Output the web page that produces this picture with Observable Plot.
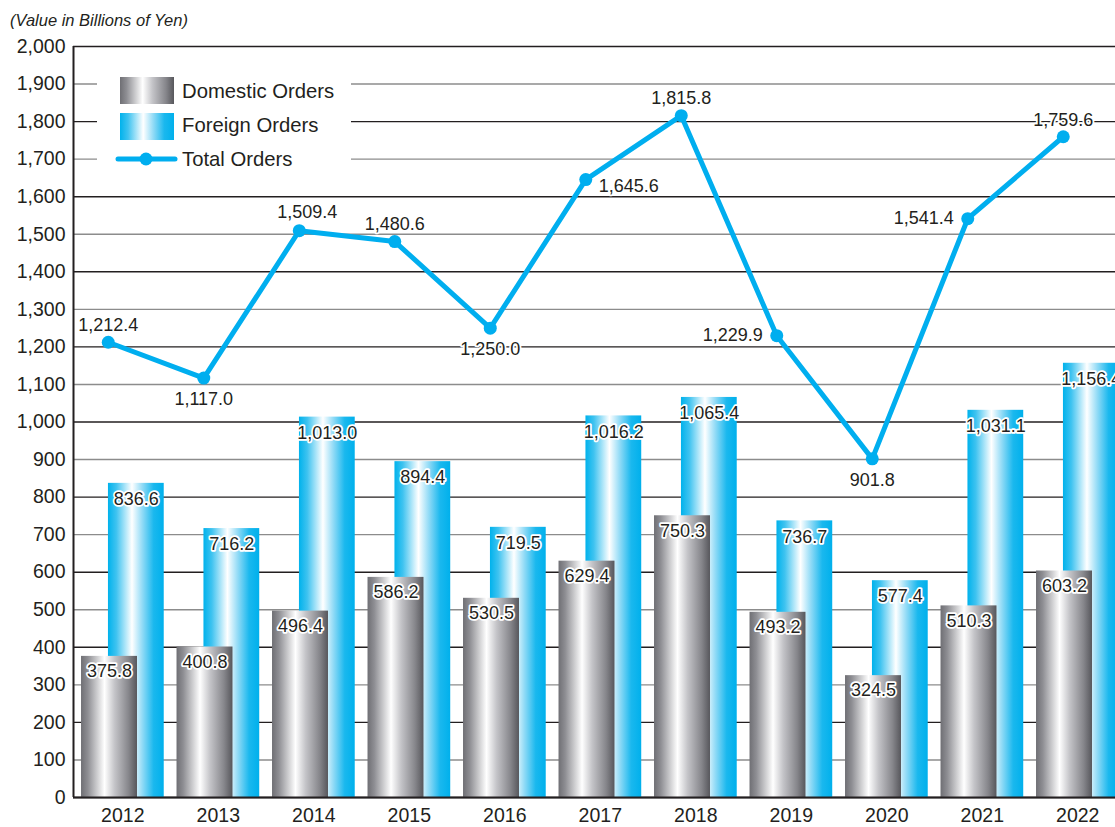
<!DOCTYPE html>
<html><head><meta charset="utf-8">
<script src="https://cdn.jsdelivr.net/npm/d3@7"></script>
<script src="https://cdn.jsdelivr.net/npm/@observablehq/plot@0.6"></script>
<style>
html,body{margin:0;padding:0;background:#fff;overflow:hidden;}
#title{height:32px;box-sizing:border-box;padding:11px 0 0 10px;font:italic 16.5px "Liberation Sans",Arial,sans-serif;line-height:18px;color:#231f20;}
</style></head><body>
<div id="title">(Value in Billions of Yen)</div>
<div id="chart"></div>
<script>
const years = [2012, 2013, 2014, 2015, 2016, 2017, 2018, 2019, 2020, 2021, 2022];
const domesticOrders = [375.8, 400.8, 496.4, 586.2, 530.5, 629.4, 750.3, 493.2, 324.5, 510.3, 603.2];
const foreignOrders = [836.6, 716.2, 1013.0, 894.4, 719.5, 1016.2, 1065.4, 736.7, 577.4, 1031.1, 1156.4];
const totalOrders = [1212.4, 1117.0, 1509.4, 1480.6, 1250.0, 1645.6, 1815.8, 1229.9, 901.8, 1541.4, 1759.6];
const totalLabelPlacement = ["above", "below", "aboveRight", "above", "below", "right", "above", "left", "below", "left", "above"];
const yTicks = d3.range(0, 2001, 100);
const seriesNames = ["Domestic Orders", "Foreign Orders", "Total Orders"];

const rows = years.map((year, i) => ({
  year, domestic: domesticOrders[i], foreign: foreignOrders[i], total: totalOrders[i], place: totalLabelPlacement[i]
}));

const FONT = '"Liberation Sans", Arial, Helvetica, sans-serif';
const INK = "#231f20";
const CYAN = "#00aeef";
const DOM_X1 = -0.432, DOM_X2 = 0.154, FOR_X1 = -0.150, FOR_X2 = 0.434, TOTAL_X = -0.152;
const xDomain = [2011.484, 2022.395];
const fmt = d3.format(",.1f");

const placements = {
  above: {dx: 0, dy: -17, textAnchor: "middle"},
  aboveRight: {dx: 8, dy: -18, textAnchor: "middle"},
  below: {dx: 0, dy: 21, textAnchor: "middle"},
  right: {dx: 13, dy: 7, textAnchor: "start"},
  left: {dx: -14, dy: 0, textAnchor: "end"}
};

const labelStyle = {fill: INK, stroke: "white", strokeWidth: 3.5, fontSize: 18, fontFamily: FONT};

const totalLabelMarks = Object.entries(placements).map(([p, o]) =>
  Plot.text(rows.filter(d => d.place === p), {
    x: d => d.year + TOTAL_X, y: "total", text: d => fmt(d.total), ...o, ...labelStyle
  })
);

const svg = Plot.plot({
  width: 1115,
  height: 795,
  marginTop: 14,
  marginBottom: 30,
  marginLeft: 73,
  marginRight: 0,
  style: {fontFamily: FONT, color: INK, background: "white", overflow: "hidden"},
  x: {type: "linear", domain: xDomain, range: [73, 1115], axis: null},
  y: {domain: [0, 2000], axis: null},
  marks: [
    Plot.ruleY(yTicks, {y: d => d, stroke: d => d % 200 === 0 ? INK : "#8c8c8c", strokeWidth: 1.4}),
    Plot.rectY(rows, {x1: d => d.year + FOR_X1, x2: d => d.year + FOR_X2, y1: 0, y2: "foreign", fill: "url(#gFor)"}),
    Plot.rectY(rows, {x1: d => d.year + DOM_X1, x2: d => d.year + DOM_X2, y1: 0, y2: "domestic", fill: "url(#gDom)"}),
    Plot.ruleY([0], {stroke: INK, strokeWidth: 2.2}),
    Plot.ruleX([xDomain[0]], {stroke: INK, strokeWidth: 2}),
    Plot.text(rows, {x: d => d.year + (FOR_X1 + FOR_X2) / 2, y: "foreign", dy: 16, text: d => fmt(d.foreign), ...labelStyle}),
    Plot.text(rows, {x: d => d.year + (DOM_X1 + DOM_X2) / 2, y: "domestic", dy: 15, text: d => fmt(d.domestic), ...labelStyle}),
    Plot.line(rows, {x: d => d.year + TOTAL_X, y: "total", stroke: CYAN, strokeWidth: 5}),
    Plot.dot(rows, {x: d => d.year + TOTAL_X, y: "total", r: 6.5, fill: CYAN}),
    ...totalLabelMarks,
    Plot.axisY(yTicks, {tickSize: 0, tickPadding: 8, tickFormat: d3.format(","), fontSize: 19.5, fontFamily: FONT, fill: INK}),
    Plot.axisX(years, {tickSize: 0, tickPadding: 11, tickFormat: d => String(d), fontSize: 19.5, fontFamily: FONT, fill: INK})
  ]
});

const root = d3.select(svg);
const defs = root.insert("defs", ":first-child");
function grad(id, stops) {
  const g = defs.append("linearGradient").attr("id", id).attr("x1", "0").attr("x2", "1").attr("y1", "0").attr("y2", "0");
  stops.forEach(([o, c]) => g.append("stop").attr("offset", o).attr("stop-color", c));
}
grad("gDom", [[0, "#6f6f74"], [0.12, "#8e8e93"], [0.42, "#ffffff"], [0.6, "#c4c4c8"], [0.85, "#86868b"], [1, "#57575c"]]);
grad("gFor", [[0, "#00b2ec"], [0.15, "#3fc3f0"], [0.43, "#ffffff"], [0.62, "#8fdaf6"], [0.82, "#1ab8ee"], [1, "#00b0ec"]]);

// legend (inside the plot frame, top-left)
const lg = root.append("g").attr("font-family", FONT).attr("font-size", 20.3).attr("fill", INK).attr("text-anchor", "start");
lg.append("rect").attr("x", 97).attr("y", 30).attr("width", 254).attr("height", 116).attr("fill", "white");
lg.append("rect").attr("x", 120).attr("y", 45).attr("width", 54).attr("height", 27).attr("fill", "url(#gDom)");
lg.append("rect").attr("x", 120).attr("y", 81).attr("width", 54).attr("height", 27).attr("fill", "url(#gFor)");
lg.append("line").attr("x1", 118).attr("x2", 175).attr("y1", 127).attr("y2", 127).attr("stroke", CYAN).attr("stroke-width", 5).attr("stroke-linecap", "round");
lg.append("circle").attr("cx", 146).attr("cy", 127).attr("r", 6.5).attr("fill", CYAN);
[59, 93, 127].forEach((y, i) => {
  lg.append("text").attr("x", 182).attr("y", y).attr("dy", "0.35em").attr("text-anchor", "start").text(seriesNames[i]);
});

document.getElementById("chart").appendChild(svg);
</script>
</body></html>
